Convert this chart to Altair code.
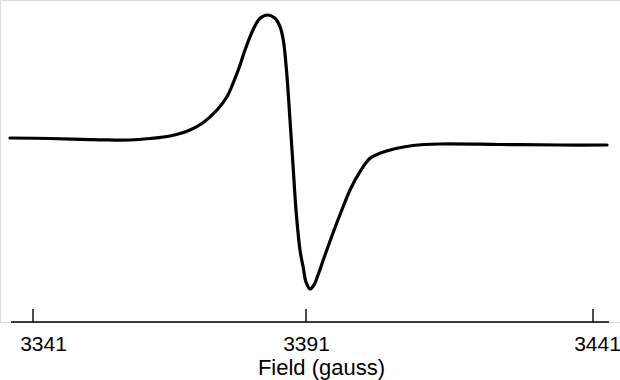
import altair as alt
import pandas as pd

# Field positions (gauss) and first-derivative EPR signal (arbitrary units)
field_gauss = [3336.79, 3344.11, 3353.27, 3358.77, 3362.43, 3366.09, 3369.75, 3372.14,
               3374.70, 3376.53, 3377.63, 3378.73, 3379.83, 3381.29, 3382.58, 3384.04,
               3385.32, 3386.24, 3386.84, 3387.47, 3388.07, 3388.62, 3389.17, 3389.90,
               3390.51, 3391.00, 3391.70, 3392.39, 3393.09, 3394.01, 3395.70, 3397.45,
               3398.67, 3400.41, 3402.15, 3403.89, 3406.85, 3409.64, 3414.34, 3424.80,
               3435.25, 3443.44]
signal = [0.02, 0.015, 0.002, 0.0, 0.015, 0.04, 0.10, 0.173,
          0.30, 0.433, 0.567, 0.72, 0.90, 1.10, 1.217, 1.25,
          1.217, 1.133, 1.00, 0.67, 0.20, -0.25, -0.70, -1.10,
          -1.28, -1.42, -1.49, -1.45, -1.35, -1.20, -0.93, -0.67,
          -0.50, -0.317, -0.183, -0.133, -0.083, -0.055, -0.04, -0.045,
          -0.05, -0.05]

tick_values = [3341, 3391, 3441]

FONT = "Liberation Sans"

spec_df = pd.DataFrame({"field": field_gauss, "signal": signal})
tick_df = pd.DataFrame({"field": tick_values})
axis_df = pd.DataFrame({"a": [0]})

x_scale = alt.Scale(type="linear", domain=tick_values, range=[33, 306, 593],
                    nice=False, zero=False)
x_axis = alt.Axis(
    values=tick_values, format="d", title="Field (gauss)",
    domain=False, ticks=False, grid=False, labelFlush=False,
    labelFont=FONT, labelFontSize=21, labelColor="black",
    labelBaseline="alphabetic", labelPadding=28,
    labelOffset={"condition": [{"test": "datum.value === 3341", "value": 10},
                               {"test": "datum.value === 3441", "value": 4}],
                 "value": 0},
    titleFont=FONT, titleFontSize=22, titleFontWeight="normal", titleColor="black",
    titleX=321, titleY=52, titleAlign="center", titleBaseline="alphabetic",
)

line = alt.Chart(spec_df).mark_line(
    color="black", strokeWidth=3.2, interpolate="catmull-rom", strokeCap="round"
).encode(
    x=alt.X("field:Q", scale=x_scale, axis=x_axis),
    y=alt.Y("signal:Q", scale=alt.Scale(domain=[-1.82, 1.40], nice=False, zero=False),
            axis=None),
)

ticks = alt.Chart(tick_df).mark_rule(color="black", strokeWidth=1.4).encode(
    x=alt.X("field:Q", scale=x_scale, axis=x_axis),
    y=alt.value(309),
    y2=alt.value(322),
)

axis_line = alt.Chart(axis_df).mark_rule(color="black", strokeWidth=1.6).encode(
    x=alt.value(11), x2=alt.value(609), y=alt.value(322)
)

chart = alt.layer(axis_line, ticks, line).properties(
    width=620, height=322,
    autosize=alt.AutoSizeParams(type="none"),
    padding={"left": 0, "top": 0, "right": 0, "bottom": 58},
).configure_view(stroke=None).configure(background="white")

chart.save("out.html", embed_options={"renderer": "svg", "actions": False})
